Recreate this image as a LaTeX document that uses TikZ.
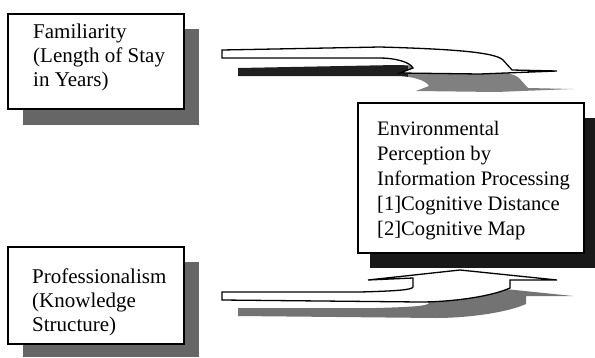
\documentclass[tikz,border=0pt]{standalone}
\usepackage{fontspec}
\setmainfont{Liberation Serif}
\begin{document}
\begin{tikzpicture}[x=1pt,y=-1pt,
  tbox/.style={draw=black, line width=1.6pt, fill=white, inner sep=0pt, anchor=north west},
  lshadow/.style={fill=black!60},
  rshadow/.style={fill=black!90},
  ltxt/.style={align=left, inner sep=0pt, anchor=base west, font=\fontsize{21}{24}\selectfont},
  rtxt/.style={align=left, inner sep=0pt, anchor=base west, font=\fontsize{20.6}{25}\selectfont},
  barrow/.style={draw=black, line width=1.3pt, fill=white, line join=miter}]
\useasboundingbox (0,0) rectangle (595,357);
\def\toparrowpath{(222,50) -- (380,47) .. controls (450,49) and (495,52) .. (503,60) -- (512,70) -- (557,71) -- (480,74) -- (400,73) -- (413,68) .. controls (410,62) and (395,58) .. (380,58) -- (222,58) -- cycle}
\def\botarrowpath{(222,292) -- (360,292) .. controls (395,291) and (412,290) .. (413,287) -- (413,278) -- (368,280) -- (460,270) -- (557,280) -- (510,280) -- (510,288) .. controls (490,297) and (450,302) .. (420,302) -- (222,300) -- cycle}
% shadows of boxes
\fill[lshadow] (23,29) rectangle (199,125);
\fill[lshadow] (23,262) rectangle (199,357);
\fill[rshadow] (370,118) rectangle (597,268);
% boxes
\node[tbox, minimum width=176pt, minimum height=95pt] (fam) at (7,13) {};
\node[ltxt] (famtxt) at (33,86) {Familiarity\\(Length of Stay\\in Years)};
\node[tbox, minimum width=176pt, minimum height=97pt] (prof) at (7,246) {};
\node[ltxt] (proftxt) at (32,331) {Professionalism\\(Knowledge\\Structure)};
\node[tbox, minimum width=226pt, minimum height=150pt] (env) at (357,102) {};
\node[rtxt] (envtxt) at (377,235) {Environmental\\Perception by\\Information Processing\\{[1]}Cognitive Distance\\{[2]}Cognitive Map};
% arrow shadows
\begin{scope}
  \clip (0,0) rectangle (408,357);
  \fill[black!88, shift={(16,18)}] \toparrowpath;
\end{scope}
\begin{scope}
  \clip (408,0) rectangle (595,357);
  \fill[black!50, shift={(16,18)}] \toparrowpath;
\end{scope}
\fill[black!55, shift={(16,16)}] \botarrowpath;
% arrows
\draw[barrow] \toparrowpath;
\draw[barrow] \botarrowpath;
\end{tikzpicture}
\end{document}
